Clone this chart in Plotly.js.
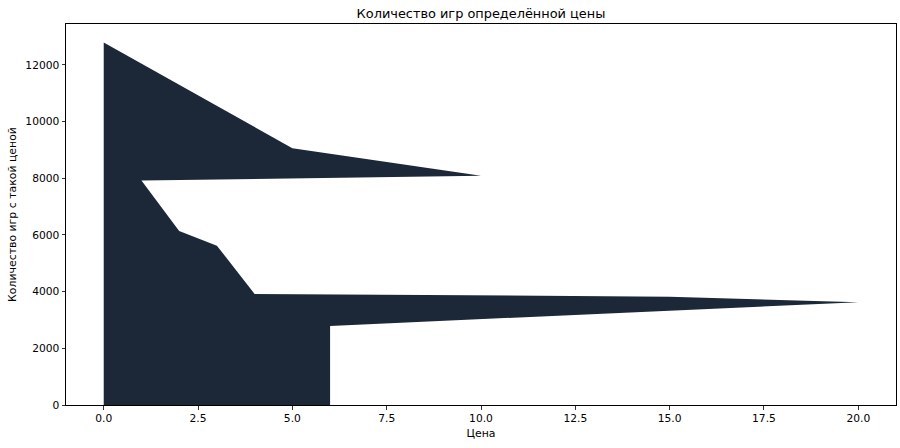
<!DOCTYPE html>
<html>
<head>
<meta charset="utf-8">
<script src="https://cdn.plot.ly/plotly-3.0.1.min.js"></script>
<style>html,body{margin:0;padding:0;background:#fff;}#chart{width:900px;height:448px;}</style>
</head>
<body>
<div id="chart"></div>
<script>
// Prices in value_counts order, and number of games at each price
const prices = [0, 5, 10, 1, 2, 3, 4, 15, 20, 6];
const counts = [12790, 9060, 8090, 7915, 6140, 5620, 3920, 3820, 3625, 2790];
const xTicks = [0, 2.5, 5, 7.5, 10, 12.5, 15, 17.5, 20];
const yTicks = [0, 2000, 4000, 6000, 8000, 10000, 12000];

const font = 'DejaVu Sans, sans-serif';
const trace = {
  x: prices,
  y: counts,
  type: 'scatter',
  mode: 'lines',
  fill: 'tozeroy',
  fillcolor: '#1c2838',
  line: {width: 0, color: '#1c2838'},
  hoverinfo: 'x+y'
};

const axisCommon = {
  showgrid: false,
  zeroline: false,
  showline: true,
  linecolor: '#000',
  linewidth: 1,
  mirror: true,
  ticks: 'outside',
  ticklen: 3.5,
  tickwidth: 0.8,
  tickcolor: '#000',
  tickfont: {family: font, size: 10.7, color: '#000'}
};

const layout = {
  width: 900,
  height: 448,
  margin: {l: 66, r: 4, t: 24, b: 43},
  paper_bgcolor: '#fff',
  plot_bgcolor: '#fff',
  showlegend: false,
  title: {text: 'Количество игр определённой цены', font: {family: font, size: 12.9, color: '#000'}, xref: 'paper', x: 0.5, xanchor: 'center', yref: 'container', y: 0.970, yanchor: 'middle'},
  xaxis: Object.assign({}, axisCommon, {
    range: [-1, 21],
    tickvals: xTicks,
    ticktext: xTicks.map(v => v.toFixed(1)),
    title: {text: 'Цена', font: {family: font, size: 10.9, color: '#000'}, standoff: 5}
  }),
  yaxis: Object.assign({}, axisCommon, {
    range: [0, 13440],
    tickvals: yTicks,
    ticktext: yTicks.map(String),
    title: {text: 'Количество игр с такой ценой', font: {family: font, size: 10.9, color: '#000'}, standoff: 6}
  })
};

Plotly.newPlot('chart', [trace], layout, {displayModeBar: false, staticPlot: true});
</script>
</body>
</html>
